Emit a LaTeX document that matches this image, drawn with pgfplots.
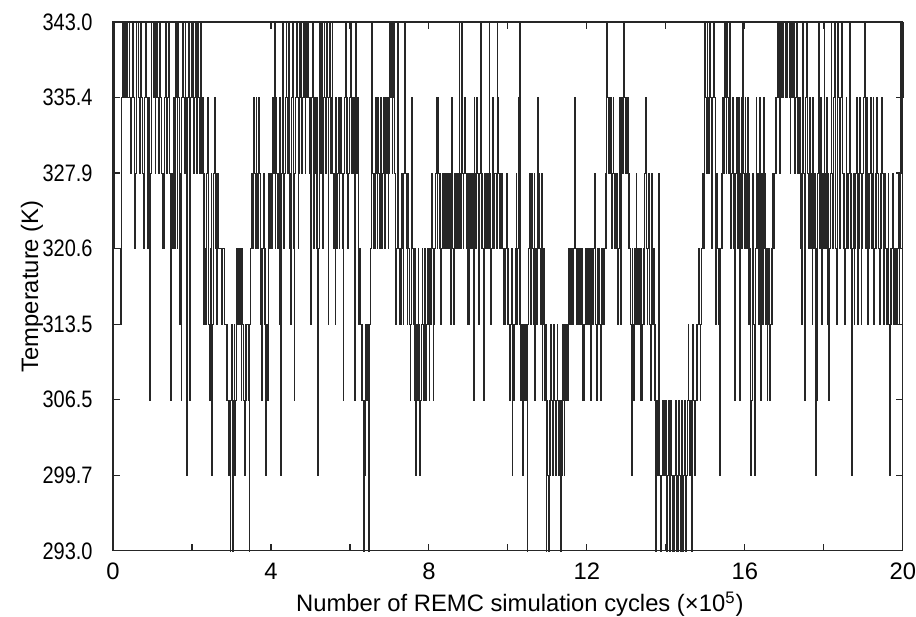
\documentclass[border=0pt]{standalone}
\usepackage{graphicx}
\usepackage{pgfplots}
\pgfplotsset{compat=1.18}
\usepackage{pgfplotstable}
\usepackage{fontspec}
\setmainfont{Liberation Sans}

% temperature level index (0 = 293.0 K ... 7 = 343.0 K), one value every 0.02 x 10^5 cycles
\pgfplotstableread[header=false,row sep=\\]{
7\\4\\4\\4\\4\\4\\4\\4\\4\\3\\ 3\\6\\7\\6\\7\\7\\6\\7\\6\\6\\ 7\\6\\5\\6\\7\\7\\6\\4\\5\\6\\ 7\\7\\6\\5\\6\\7\\6\\5\\4\\5\\ 6\\7\\6\\5\\4\\6\\2\\5\\6\\7\\
7\\6\\7\\5\\6\\7\\6\\5\\6\\7\\ 6\\5\\4\\5\\4\\6\\7\\6\\5\\6\\ 7\\5\\4\\2\\5\\4\\6\\5\\4\\7\\ 6\\4\\7\\6\\3\\5\\2\\6\\7\\6\\ 5\\7\\6\\1\\6\\7\\5\\2\\6\\7\\
6\\7\\5\\6\\7\\6\\5\\7\\6\\5\\ 6\\7\\5\\6\\3\\5\\4\\3\\5\\6\\ 5\\3\\2\\4\\5\\1\\3\\5\\6\\4\\ 5\\3\\5\\4\\4\\4\\4\\3\\4\\4\\ 4\\3\\3\\2\\3\\2\\1\\2\\0\\2\\
3\\0\\2\\3\\1\\2\\4\\3\\4\\3\\ 4\\3\\2\\4\\3\\2\\1\\3\\2\\3\\ 3\\2\\0\\3\\4\\5\\4\\5\\6\\5\\ 4\\6\\5\\4\\6\\5\\3\\4\\2\\4\\ 5\\3\\4\\1\\3\\2\\4\\5\\4\\5\\
5\\4\\6\\5\\7\\4\\6\\5\\4\\5\\ 3\\6\\1\\5\\7\\6\\4\\5\\6\\7\\ 6\\5\\7\\4\\5\\3\\6\\7\\4\\2\\ 5\\6\\7\\6\\4\\5\\7\\6\\7\\5\\ 6\\7\\6\\5\\7\\6\\7\\6\\5\\6\\
3\\6\\7\\5\\4\\6\\5\\4\\6\\1\\ 4\\7\\6\\5\\7\\4\\6\\7\\6\\5\\ 7\\6\\3\\6\\7\\5\\6\\7\\5\\4\\ 5\\3\\6\\4\\5\\6\\4\\5\\6\\5\\ 4\\2\\5\\6\\7\\5\\6\\4\\5\\6\\
6\\7\\5\\6\\5\\6\\2\\7\\5\\6\\ 4\\3\\4\\3\\2\\3\\2\\0\\2\\1\\ 3\\2\\3\\0\\2\\3\\4\\7\\5\\4\\ 5\\4\\6\\5\\4\\6\\5\\4\\5\\6\\ 4\\5\\6\\5\\4\\6\\5\\6\\4\\5\\
7\\6\\7\\5\\6\\7\\5\\4\\3\\4\\ 7\\4\\3\\4\\3\\5\\4\\3\\5\\7\\ 5\\4\\3\\5\\4\\3\\2\\3\\6\\4\\ 3\\2\\4\\1\\3\\2\\4\\3\\1\\2\\ 3\\4\\3\\2\\4\\3\\2\\3\\4\\3\\
2\\4\\3\\5\\4\\2\\3\\4\\5\\6\\ 4\\6\\5\\4\\5\\3\\4\\5\\4\\5\\ 4\\5\\4\\5\\5\\4\\5\\3\\6\\5\\ 4\\3\\5\\4\\5\\4\\5\\4\\7\\5\\ 4\\7\\5\\4\\5\\6\\5\\4\\3\\5\\
3\\5\\4\\5\\4\\5\\2\\6\\5\\4\\ 6\\5\\4\\3\\5\\7\\4\\5\\4\\2\\ 5\\4\\5\\4\\5\\4\\7\\5\\3\\4\\ 6\\5\\4\\5\\5\\4\\7\\6\\5\\4\\ 5\\4\\5\\4\\3\\4\\3\\4\\5\\3\\
4\\3\\2\\3\\4\\1\\3\\2\\3\\4\\ 5\\3\\4\\6\\3\\7\\2\\3\\1\\2\\ 3\\2\\3\\2\\0\\3\\4\\5\\3\\4\\ 5\\4\\3\\5\\2\\4\\3\\6\\4\\5\\ 4\\3\\5\\2\\3\\4\\2\\3\\0\\2\\
1\\0\\2\\1\\3\\2\\1\\2\\3\\2\\ 1\\2\\3\\2\\1\\2\\0\\2\\1\\3\\ 2\\1\\3\\2\\3\\2\\3\\4\\3\\4\\ 3\\4\\3\\4\\6\\4\\3\\4\\3\\4\\ 3\\4\\3\\4\\2\\3\\2\\3\\4\\3\\
3\\4\\3\\4\\2\\3\\4\\3\\4\\5\\ 4\\3\\2\\4\\3\\4\\3\\2\\4\\3\\ 4\\3\\4\\5\\4\\7\\6\\5\\6\\5\\ 6\\4\\5\\6\\5\\4\\5\\4\\5\\3\\ 4\\6\\3\\5\\6\\5\\7\\6\\5\\6\\
5\\6\\4\\5\\4\\3\\1\\4\\3\\2\\ 4\\3\\5\\4\\3\\4\\3\\2\\4\\2\\ 3\\4\\3\\5\\6\\4\\3\\4\\5\\3\\ 2\\4\\5\\3\\4\\2\\3\\0\\2\\1\\ 2\\5\\1\\0\\1\\2\\1\\2\\1\\2\\
1\\0\\1\\2\\0\\1\\2\\1\\0\\1\\ 0\\1\\2\\0\\1\\0\\2\\1\\0\\1\\ 2\\0\\1\\2\\1\\0\\1\\2\\3\\2\\ 1\\2\\0\\2\\3\\2\\1\\2\\3\\2\\ 3\\4\\3\\2\\3\\4\\5\\4\\6\\7\\
6\\5\\7\\6\\5\\7\\6\\5\\4\\6\\ 7\\6\\4\\3\\5\\4\\3\\4\\1\\4\\ 5\\4\\6\\5\\7\\6\\5\\7\\6\\5\\ 7\\5\\4\\5\\6\\4\\5\\2\\5\\6\\ 5\\4\\6\\2\\5\\6\\4\\7\\5\\4\\
6\\5\\4\\6\\3\\5\\4\\1\\2\\4\\ 5\\3\\1\\4\\6\\4\\5\\3\\6\\4\\ 2\\5\\3\\6\\4\\5\\3\\4\\2\\3\\ 4\\2\\3\\4\\3\\5\\4\\5\\6\\5\\ 6\\7\\6\\7\\5\\7\\6\\7\\6\\7\\
7\\6\\7\\6\\7\\7\\6\\5\\7\\6\\ 7\\6\\7\\5\\6\\7\\5\\6\\5\\6\\ 4\\5\\3\\7\\5\\2\\4\\6\\7\\5\\ 4\\5\\6\\4\\5\\3\\6\\4\\5\\1\\ 4\\2\\5\\7\\4\\5\\6\\3\\5\\4\\
7\\5\\4\\6\\3\\5\\2\\4\\5\\7\\ 5\\4\\6\\7\\5\\4\\3\\7\\6\\5\\ 4\\6\\7\\5\\4\\5\\3\\4\\6\\5\\ 4\\5\\7\\4\\5\\1\\4\\5\\3\\4\\ 5\\6\\3\\5\\4\\6\\5\\3\\4\\5\\
6\\7\\5\\4\\6\\3\\5\\4\\5\\6\\ 4\\5\\6\\3\\4\\5\\4\\6\\5\\4\\ 3\\5\\4\\6\\5\\3\\4\\5\\4\\3\\ 4\\5\\3\\1\\4\\3\\4\\5\\3\\4\\ 3\\4\\3\\4\\5\\3\\4\\7\\5\\7\\
6\\
}\trajectory

\newcommand{\yl}[1]{\scalebox{0.84}[1]{#1}}

\begin{document}
\begin{tikzpicture}[font=\fontsize{11.9}{14}\selectfont]
\begin{axis}[
  scale only axis,
  width=395pt, height=264.5pt,
  xmin=0, xmax=20, ymin=0, ymax=7,
  clip=false,
  xtick={0,4,8,12,16,20},
  xticklabels={0,4,8,12,16,20},
  minor xtick={2,6,10,14,18},
  ytick={0,1,2,3,4,5,6,7},
  yticklabels={\yl{293.0},\yl{299.7},\yl{306.5},\yl{313.5},\yl{320.6},\yl{327.9},\yl{335.4},\yl{343.0}},
  tick align=inside,
  major tick length=3.5pt,
  minor tick length=3.5pt,
  axis line style={black!85, line width=0.6pt},
  every tick/.style={black!85, line width=0.6pt},
  xticklabel style={inner sep=0pt, anchor=north, yshift=-6pt},
  yticklabel style={inner sep=0pt, anchor=east, xshift=-10pt},
  xlabel={Number of REMC simulation cycles (×10\textsuperscript{5})},
  ylabel={Temperature (K)},
  every axis x label/.style={at={(axis description cs:0.5152,-0.1153)}, anchor=base, inner sep=0pt},
  every axis y label/.style={at={(axis description cs:-0.0949,0.5)}, anchor=base, rotate=90, inner sep=0pt},
]
\addplot[const plot, black!85, line width=0.25pt, mark=none]
  table[x expr=\coordindex*0.02, y index=0] {\trajectory};
\end{axis}
\path ([yshift=11pt]current axis.north);
\path ([xshift=6.5pt]current axis.east);
\path ([xshift=-56.5pt]current axis.west);
\path ([yshift=-32pt]current axis.south);
\end{tikzpicture}
\end{document}
